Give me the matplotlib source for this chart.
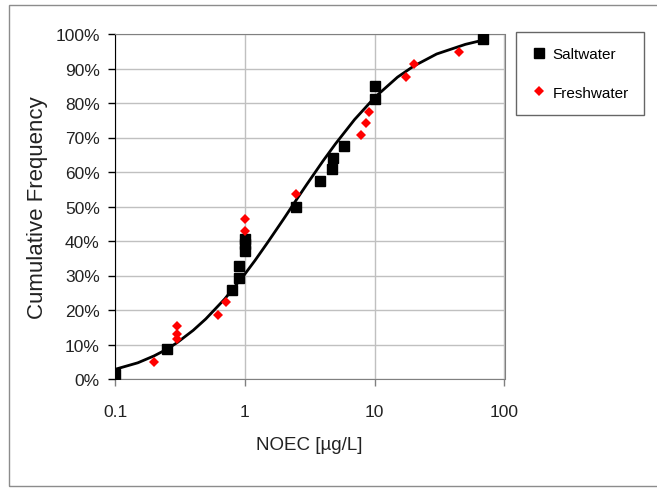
import matplotlib
matplotlib.use("Agg")
import matplotlib.ticker as mticker
from matplotlib import pyplot as plt
from matplotlib.lines import Line2D
from matplotlib.patches import Rectangle

plt.rcParams["font.family"] = ["Liberation Sans", "DejaVu Sans"]

# values
salt_x = [0.1, 0.25, 0.8, 0.9, 0.9, 1.0, 1.0, 1.0, 2.5, 3.8, 4.7, 4.8, 5.8, 10, 10, 68]
salt_pct = [1.5, 8.8, 25.8, 29.4, 32.8, 37.2, 39.0, 40.6, 50.0, 57.4, 60.8, 64.0, 67.6, 81.2, 84.8, 98.6]

fresh_x = [0.2, 0.3, 0.3, 0.3, 0.62, 0.71, 1.0, 1.0, 2.5, 7.9, 8.5, 9.0, 17.5, 20, 45]
fresh_pct = [4.8, 11.6, 13.0, 15.5, 18.6, 22.2, 43.0, 46.4, 53.6, 70.6, 74.2, 77.3, 87.6, 91.3, 94.8]

curve_x = [0.1, 0.15, 0.2, 0.25, 0.3, 0.4, 0.5, 0.7, 1, 1.2, 1.5, 2, 2.5, 3, 4, 5, 7,
           10, 15, 20, 30, 50, 68]
curve_pct = [2.8, 4.7, 6.7, 8.6, 10.5, 14.1, 17.4, 23.2, 30.4, 34.4, 39.6, 46.5, 52.0,
             56.4, 63.2, 68.2, 75.2, 81.6, 87.5, 90.7, 94.2, 97.0, 98.2]

x_ticks = [0.1, 1, 10, 100]
y_ticks = list(range(0, 101, 10))

fig = plt.figure(figsize=(6.57, 4.89), dpi=100)
ax = fig.add_axes([115 / 657, 1 - 380 / 489, (504.5 - 115) / 657, (380 - 35) / 489])

# outer chart-area border
fig.patches.append(Rectangle((9 / 657, 1 - 487 / 489), 1.0, (487 - 6) / 489,
                             transform=fig.transFigure, fill=False,
                             edgecolor="#8c8c8c", linewidth=1.0))

ax.plot(curve_x, curve_pct, color="black", linewidth=2.0, zorder=3)
ax.plot(salt_x, salt_pct, linestyle="none", marker="s", markersize=7,
        color="black", zorder=4)
ax.plot(fresh_x, fresh_pct, linestyle="none", marker="D", markersize=5.3,
        color="#ff0000", markeredgewidth=0, zorder=4)

ax.set_xscale("log")
ax.set_xlim(0.1, 100)
ax.set_ylim(0, 100)
ax.set_xticks(x_ticks)
ax.set_yticks(y_ticks)
ax.xaxis.set_major_formatter(mticker.FuncFormatter(lambda v, p: f"{v:g}"))
ax.yaxis.set_major_formatter(mticker.FuncFormatter(lambda v, p: f"{v:.0f}%"))
ax.xaxis.set_minor_locator(mticker.NullLocator())

ax.grid(True, color="#c0c0c0", linewidth=1.0)
ax.set_axisbelow(True)
for side in ["top", "right", "bottom"]:
    ax.spines[side].set_color("#808080")
ax.spines["left"].set_color("black")

ax.tick_params(axis="y", length=5, width=1, color="black", pad=6,
               labelsize=12.5, labelcolor="#222222")
ax.tick_params(axis="x", length=5, width=1, color="#808080", pad=13,
               labelsize=12.5, labelcolor="#222222")

ax.set_xlabel("NOEC [µg/L]", fontsize=13.5, color="#222222", labelpad=12)
ax.set_ylabel("Cumulative Frequency", fontsize=16, color="#222222", labelpad=5)

handles = [
    Line2D([], [], linestyle="none", marker="s", markersize=6.5, color="black"),
    Line2D([], [], linestyle="none", marker="D", markersize=5, color="#ff0000",
           markeredgewidth=0),
]
leg = fig.legend(handles, ["Saltwater", "Freshwater"], loc="upper left",
                 bbox_to_anchor=(516 / 657, 1 - 33 / 489), fontsize=11,
                 frameon=True, fancybox=False, edgecolor="#404040",
                 borderpad=1.0, labelspacing=1.6, handlelength=1.0,
                 handletextpad=0.4, borderaxespad=0)
leg.get_frame().set_linewidth(1.0)

fig.savefig("out.png", dpi=100)
